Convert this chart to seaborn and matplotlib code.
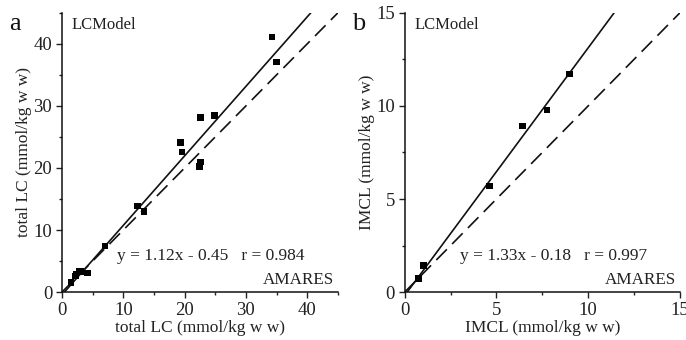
import numpy as np
import pandas as pd
import matplotlib
matplotlib.use('Agg')
import matplotlib.pyplot as plt
import seaborn as sns
from matplotlib.ticker import MultipleLocator

# panel a: total LC, AMARES (x) vs LCModel (y)
lc_amares = [1.5, 2.2, 2.3, 2.8, 3.0, 4.2, 7.0, 12.3, 13.4, 19.3, 19.6, 22.4, 22.6, 22.6, 24.9, 34.3, 35.0]
lc_lcmodel = [1.5, 2.6, 2.8, 3.4, 3.3, 3.1, 7.4, 13.9, 13.0, 24.1, 22.6, 20.2, 21.0, 28.1, 28.5, 41.1, 37.1]
lc_fit = (1.12, -0.45)
lc_lim = 45

# panel b: IMCL
imcl_amares = [0.76, 1.02, 4.62, 6.43, 7.76, 8.98]
imcl_lcmodel = [0.72, 1.43, 5.70, 8.92, 9.78, 11.72]
imcl_fit = (1.33, -0.18)
imcl_lim = 15

sns.set_style('ticks')
plt.rcParams['font.family'] = ['Liberation Serif', 'DejaVu Serif']

fig = plt.figure(figsize=(6.86, 3.4), dpi=100)
ax_a = fig.add_axes([0.0904, 0.141, 0.402, 0.821])
ax_b = fig.add_axes([0.590, 0.141, 0.401, 0.821])

panels = [
    (ax_a, lc_amares, lc_lcmodel, lc_fit, lc_lim, 10, 5, 'total LC (mmol/kg w w)', 'a',
     'y = 1.12x - 0.45   r = 0.984'),
    (ax_b, imcl_amares, imcl_lcmodel, imcl_fit, imcl_lim, 5, 2.5, 'IMCL (mmol/kg w w)', 'b',
     'y = 1.33x - 0.18   r = 0.997'),
]

for ax, xs, ys, fit, lim, major, minor, label, letter, eq in panels:
    df = pd.DataFrame({'amares': xs, 'lcmodel': ys})
    slope, icpt = fit
    # identity line
    ident = pd.DataFrame({'x': [0, lim], 'y': [0, lim]})
    sns.lineplot(data=ident, x='x', y='y', ax=ax, color='#111111', lw=1.2,
                 linestyle=(0, (9, 4.5)))
    # regression line, clipped to axes
    x0 = -icpt / slope
    x1 = (lim - icpt) / slope
    fx = np.array([x0, x1])
    fit_df = pd.DataFrame({'x': fx, 'y': slope * fx + icpt})
    sns.lineplot(data=fit_df, x='x', y='y', ax=ax, color='#111111', lw=1.2)
    sns.scatterplot(data=df, x='amares', y='lcmodel', ax=ax, marker='s', s=22,
                    color='black', edgecolor='none', zorder=5)

    ax.set_xlim(0, lim)
    ax.set_ylim(0, lim)
    ax.xaxis.set_major_locator(MultipleLocator(major))
    ax.yaxis.set_major_locator(MultipleLocator(major))
    ax.xaxis.set_minor_locator(MultipleLocator(minor))
    ax.yaxis.set_minor_locator(MultipleLocator(minor))
    ax.tick_params(which='major', direction='out', length=4, width=1, labelsize=13.5,
                   colors='#222222', pad=3)
    ax.tick_params(which='minor', direction='out', length=2.5, width=1, colors='#222222')
    sns.despine(ax=ax)
    for sp in ['left', 'bottom']:
        ax.spines[sp].set_color('#111111')
        ax.spines[sp].set_linewidth(1.1)
    ax.set_xlabel(label, fontsize=12.5, color='#222222', labelpad=1)
    ax.set_ylabel(label, fontsize=12.5, color='#222222', labelpad=1)
    ax.text(0.035, 0.985, 'LCModel', transform=ax.transAxes, fontsize=12,
            color='#222222', ha='left', va='top')
    ax.text(0.985, 0.015, 'AMARES', transform=ax.transAxes, fontsize=12.3,
            color='#222222', ha='right', va='bottom')
    ax.text(0.2, 0.1, eq, transform=ax.transAxes, fontsize=12.5,
            color='#222222', ha='left', va='bottom')
    ax.text(-0.19, 1.0, letter, transform=ax.transAxes, fontsize=19,
            color='#111111', ha='left', va='top')

fig.savefig('out.png', dpi=100)
